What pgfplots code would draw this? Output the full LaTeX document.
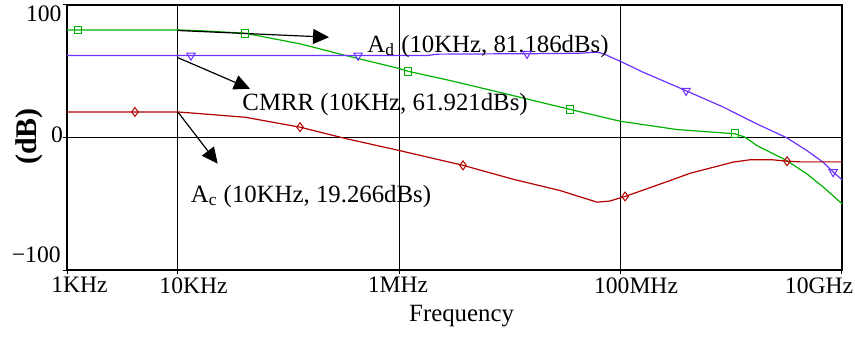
\documentclass[border=0pt]{standalone}
\usepackage{fontspec}
\setmainfont{Liberation Serif}
\usepackage{pgfplots}
\pgfplotsset{compat=1.18}
\usetikzlibrary{arrows.meta}
\definecolor{adg}{RGB}{0,178,0}
\definecolor{cmp}{RGB}{110,50,255}
\definecolor{acr}{RGB}{180,0,0}
\newcommand{\tickfont}{\fontsize{11.8bp}{14bp}\selectfont}
\newcommand{\annfont}{\fontsize{12.4bp}{15bp}\selectfont}
\begin{document}
\begin{tikzpicture}
\path[use as bounding box] (-33.5bp,-33.5bp) rectangle (394bp,135bp);
\begin{axis}[
  scale only axis, width=387.5bp, height=132.5bp,
  xmin=3, xmax=10, ymin=-100, ymax=100,
  xtick={3,4,6,8,10}, ytick={-100,0,100},
  xticklabels={}, yticklabels={},
  grid=major, grid style={black, line width=0.5bp},
  axis line style={black, line width=0.6bp},
  tick style={black, line width=0.5bp},
  tick align=outside, major tick length=2bp,
  xtick pos=bottom, ytick pos=left,
  clip=false,
]
% A_d (green)
\addplot[adg, line width=0.6bp] coordinates {
(3.000,81.2) (3.099,81.2) (4.003,81.2) (4.201,80.6) (4.608,78.7) (5.105,70.7)
(5.493,62.4) (5.999,52.1) (6.080,50.0) (6.460,43.0) (6.912,34.0) (7.544,21.2)
(7.995,12.3) (8.510,6.0) (9.034,2.8) (9.125,0.2) (9.230,-6.0) (9.501,-17.4)
(9.682,-27.4) (9.832,-37.5) (10.000,-50.0)};
\addplot[adg, only marks, mark=square, mark size=1.9bp, line width=0.5bp] coordinates {
(3.099,81.2) (4.608,78.7) (6.080,50.0) (7.544,21.2) (9.034,2.8)};
% CMRR (purple)
\addplot[cmp, line width=0.6bp] coordinates {
(3.000,61.9) (4.120,61.9) (5.629,61.9) (6.252,61.9) (6.350,62.9) (7.000,63.2)
(7.155,63.2) (7.634,63.6) (7.788,64.4) (7.842,63.3) (7.995,57.6) (8.203,49.3)
(8.592,35.3) (8.929,22.9) (9.230,10.3) (9.501,-0.2) (9.682,-9.8) (9.829,-18.6)
(9.920,-26.0) (10.000,-31.9)};
\addplot[cmp, only marks, mark=triangle, mark size=2.4bp, line width=0.5bp, mark options={rotate=180}] coordinates {
(4.120,61.9) (5.629,61.9) (7.155,63.2) (8.592,35.3) (9.920,-26.0)};
% A_c (red)
\addplot[acr, line width=0.6bp] coordinates {
(3.000,19.27) (3.614,19.27) (4.003,19.27) (4.200,18.0) (4.608,15.3) (5.105,7.8)
(5.527,-1.0) (6.000,-9.8) (6.577,-21.0) (7.029,-31.5) (7.453,-40.0) (7.634,-44.8)
(7.788,-48.8) (7.900,-48.0) (8.041,-44.5) (8.447,-32.5) (8.628,-27.0) (9.016,-18.6)
(9.170,-16.8) (9.370,-16.8) (9.504,-17.9) (9.622,-18.4) (10.000,-18.4)};
\addplot[acr, only marks, mark=diamond, mark size=2.2bp, line width=0.5bp] coordinates {
(3.614,19.27) (5.105,7.8) (6.577,-21.0) (8.041,-44.5) (9.504,-17.9)};
% annotations
\draw[line width=0.6bp, -{Triangle[length=8bp,width=7.5bp]}] (axis cs:4.003,80.75) -- (axis cs:5.367,75.7);
\draw[line width=0.6bp, -{Triangle[length=8bp,width=7.5bp]}] (axis cs:4.003,60.2) -- (axis cs:4.653,36.8);
\draw[line width=0.6bp, -{Triangle[length=8bp,width=7.5bp]}] (axis cs:4.003,19.1) -- (axis cs:4.361,-19.8);
\node[anchor=base, inner sep=0, font=\annfont] at (axis cs:6.803,64.4) {A\textsubscript{d} (10KHz, 81.186dBs)};
\node[anchor=base, inner sep=0, font=\annfont] at (axis cs:5.873,20.4) {CMRR (10KHz, 61.921dBs)};
\node[anchor=base, inner sep=0, font=\annfont] at (axis cs:5.204,-48.8) {A\textsubscript{c} (10KHz, 19.266dBs)};
% tick labels
\node[anchor=north, inner sep=0, font=\tickfont] at ([yshift=-3.5bp]axis cs:3.113,-100) {1KHz};
\node[anchor=north, inner sep=0, font=\tickfont] at ([yshift=-3.5bp]axis cs:4.143,-100) {10KHz};
\node[anchor=north, inner sep=0, font=\tickfont] at ([yshift=-3.5bp]axis cs:5.990,-100) {1MHz};
\node[anchor=north, inner sep=0, font=\tickfont] at ([yshift=-3.5bp]axis cs:8.140,-100) {100MHz};
\node[anchor=north, inner sep=0, font=\tickfont] at ([yshift=-3.5bp]axis cs:9.793,-100) {10GHz};
\node[anchor=north east, inner sep=0, font=\tickfont] at ([xshift=-2.6bp]axis cs:3,100) {100};
\node[anchor=east, inner sep=0, font=\tickfont] at ([xshift=-1.9bp,yshift=1.2bp]axis cs:3,0) {0};
\node[anchor=south east, inner sep=0, font=\tickfont] at ([xshift=-3bp,yshift=3.5bp]axis cs:3,-100) {−100};
\node[anchor=north, inner sep=0, font=\annfont] at ([yshift=-17.5bp]axis cs:6.564,-100) {Frequency};
\node[rotate=90, inner sep=0, font=\bfseries\fontsize{15bp}{18bp}\selectfont] at ([xshift=-18.75bp]axis cs:3,0.75) {(dB)};
\end{axis}
\end{tikzpicture}
\end{document}
